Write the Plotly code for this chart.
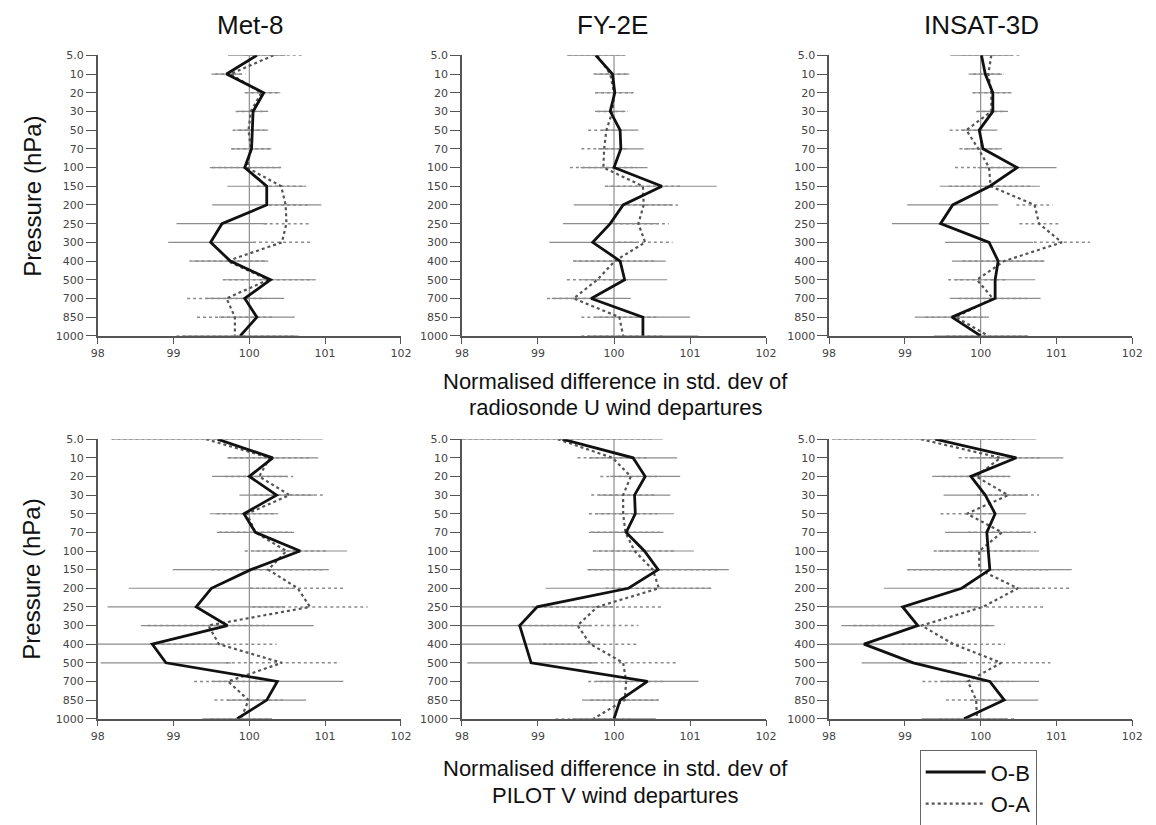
import plotly.graph_objects as go

# ---------------- data ----------------
levels = ["5.0", "10", "20", "30", "50", "70", "100", "150", "200", "250",
          "300", "400", "500", "700", "850", "1000"]
satellites = ["Met-8", "FY-2E", "INSAT-3D"]
x_ticks = [98, 99, 100, 101, 102]

# Row 1: radiosonde U wind
met8_u_ob = [100.10, 99.70, 100.19, 100.05, 100.04, 100.03, 99.94, 100.23, 100.23, 99.64, 99.49, 99.75, 100.28, 99.94, 100.10, 99.88]
met8_u_oa = [100.32, 99.75, 100.16, 100.02, 99.99, 100.02, 99.97, 100.42, 100.48, 100.49, 100.43, 99.71, 100.25, 99.70, 99.81, 99.81]
met8_u_ob_err = [0.38, 0.20, 0.22, 0.20, 0.21, 0.26, 0.46, 0.52, 0.72, 0.60, 0.56, 0.50, 0.60, 0.52, 0.50, 0.77]
met8_u_oa_err = [0.38, 0.20, 0.22, 0.20, 0.21, 0.26, 0.46, 0.32, 0.30, 0.30, 0.38, 0.50, 0.60, 0.52, 0.50, 0.77]

fy2e_u_ob = [99.76, 99.98, 100.01, 99.95, 100.08, 100.09, 100.00, 100.63, 100.12, 99.95, 99.72, 100.08, 100.14, 99.70, 100.38, 100.38]
fy2e_u_oa = [99.78, 99.95, 100.00, 99.98, 99.90, 99.87, 99.86, 100.38, 100.39, 100.32, 100.41, 100.01, 99.78, 99.47, 100.07, 100.12]
fy2e_u_ob_err = [0.38, 0.22, 0.25, 0.20, 0.24, 0.30, 0.44, 0.72, 0.65, 0.62, 0.57, 0.60, 0.56, 0.52, 0.62, 0.73]
fy2e_u_oa_err = [0.38, 0.22, 0.25, 0.20, 0.24, 0.30, 0.44, 0.50, 0.45, 0.40, 0.36, 0.55, 0.40, 0.35, 0.50, 0.55]

insat_u_ob = [100.01, 100.06, 100.16, 100.16, 99.98, 100.03, 100.48, 100.12, 99.63, 99.47, 100.11, 100.23, 100.19, 100.19, 99.62, 100.00]
insat_u_oa = [100.14, 100.10, 100.14, 100.14, 99.81, 99.97, 100.11, 100.13, 100.71, 100.77, 101.07, 100.31, 99.95, 100.16, 99.67, 100.10]
insat_u_ob_err = [0.41, 0.22, 0.25, 0.20, 0.24, 0.25, 0.52, 0.66, 0.60, 0.64, 0.58, 0.61, 0.53, 0.60, 0.49, 0.62]
insat_u_oa_err = [0.38, 0.20, 0.25, 0.20, 0.22, 0.25, 0.45, 0.55, 0.24, 0.26, 0.37, 0.55, 0.38, 0.45, 0.40, 0.55]

# Row 2: PILOT V wind
met8_v_ob = [99.58, 100.31, 100.00, 100.36, 99.93, 100.08, 100.67, 100.02, 99.50, 99.30, 99.71, 98.72, 98.90, 100.37, 100.23, 99.84]
met8_v_oa = [99.43, 100.27, 100.13, 100.53, 99.97, 100.08, 100.49, 100.25, 100.64, 100.80, 99.46, 99.60, 100.43, 99.72, 99.99, 99.89]
met8_v_ob_err = [1.39, 0.60, 0.49, 0.49, 0.45, 0.51, 0.62, 1.03, 1.09, 1.17, 1.14, 0.95, 0.86, 0.87, 0.52, 0.46]
met8_v_oa_err = [1.25, 0.55, 0.45, 0.47, 0.40, 0.48, 0.55, 0.75, 0.63, 0.76, 0.80, 0.76, 0.74, 0.45, 0.45, 0.40]

fy2e_v_ob = [99.32, 100.25, 100.41, 100.27, 100.28, 100.16, 100.40, 100.58, 100.19, 98.99, 98.76, 98.83, 98.91, 100.44, 100.08, 100.00]
fy2e_v_oa = [99.26, 99.98, 100.22, 100.12, 100.12, 100.15, 100.27, 100.51, 100.59, 99.78, 99.52, 99.69, 100.12, 100.16, 100.14, 99.73]
fy2e_v_ob_err = [1.32, 0.58, 0.46, 0.47, 0.51, 0.49, 0.65, 0.93, 1.09, 1.00, 0.95, 0.95, 0.84, 0.67, 0.50, 0.55]
fy2e_v_oa_err = [1.25, 0.46, 0.40, 0.42, 0.45, 0.45, 0.55, 0.85, 0.70, 0.86, 0.80, 0.62, 0.69, 0.50, 0.45, 0.50]

insat_v_ob = [99.40, 100.47, 99.87, 100.06, 100.19, 100.08, 100.10, 100.12, 99.75, 98.97, 99.17, 98.46, 99.11, 100.12, 100.31, 99.78]
insat_v_oa = [99.21, 100.26, 99.94, 100.36, 99.82, 100.28, 99.98, 99.98, 100.49, 100.03, 99.22, 99.64, 100.27, 99.83, 99.94, 99.95]
insat_v_ob_err = [1.33, 0.62, 0.51, 0.55, 0.41, 0.55, 0.67, 1.08, 1.03, 1.00, 1.01, 1.10, 0.68, 0.65, 0.45, 0.56]
insat_v_oa_err = [1.25, 0.55, 0.45, 0.41, 0.35, 0.45, 0.60, 0.95, 0.71, 0.83, 0.90, 0.68, 0.65, 0.60, 0.40, 0.50]

panels = [
    (met8_u_ob, met8_u_oa, met8_u_ob_err, met8_u_oa_err),
    (fy2e_u_ob, fy2e_u_oa, fy2e_u_ob_err, fy2e_u_oa_err),
    (insat_u_ob, insat_u_oa, insat_u_ob_err, insat_u_oa_err),
    (met8_v_ob, met8_v_oa, met8_v_ob_err, met8_v_oa_err),
    (fy2e_v_ob, fy2e_v_oa, fy2e_v_ob_err, fy2e_v_oa_err),
    (insat_v_ob, insat_v_oa, insat_v_ob_err, insat_v_oa_err),
]

# ---------------- layout geometry (screen pixels) ----------------
W, H = 1156, 825
OFF = 8  # default page body margin shifts the figure by this many pixels
col_px = [(92, 400), (462, 771), (835, 1143)]
row_px = [(50, 335), (440, 724)]


def fx(px):
    return (px - OFF) / W


def fy(py):
    return 1 - (py - OFF) / H


FONT = "Liberation Sans, Arial, sans-serif"
TICKFONT = dict(size=11, color="#444", family="DejaVu Sans, sans-serif")
level_idx = list(range(len(levels)))


def bars(vals, errs):
    xs, ys = [], []
    for i, (v, e) in enumerate(zip(vals, errs)):
        xs += [v - e, v + e, None]
        ys += [i, i, None]
    return xs, ys


fig = go.Figure()
layout = dict(
    width=W, height=H,
    margin=dict(l=0, r=0, t=0, b=0),
    paper_bgcolor="white", plot_bgcolor="white",
    font=dict(family=FONT, color="#222"),
    showlegend=True,
)
annotations = []
shapes = []

for p, (ob, oa, ob_err, oa_err) in enumerate(panels):
    r, c = divmod(p, 3)
    n = p + 1
    xa = "x" if n == 1 else f"x{n}"
    ya = "y" if n == 1 else f"y{n}"
    x0, x1 = col_px[c]
    t, b = row_px[r]
    layout[f"xaxis{'' if n == 1 else n}"] = dict(
        domain=[fx(x0), fx(x1)], anchor=ya, range=[98, 102],
        tickvals=x_ticks, ticktext=[str(v) for v in x_ticks],
        ticks="outside", ticklen=6, tickcolor="#555", tickwidth=1.2,
        showline=True, linecolor="#555", linewidth=1.5,
        showgrid=False, zeroline=False, tickfont=TICKFONT,
    )
    layout[f"yaxis{'' if n == 1 else n}"] = dict(
        domain=[fy(b), fy(t)], anchor=xa, range=[15, 0],
        tickvals=level_idx, ticktext=levels,
        ticks="outside", ticklen=10, tickcolor="#555", tickwidth=1.2,
        showline=True, linecolor="#555", linewidth=1.5,
        showgrid=False, zeroline=False, tickfont=TICKFONT,
    )
    # vertical reference line at 100
    shapes.append(dict(type="line", xref=xa, yref=f"{ya} domain", x0=100, x1=100,
                       y0=0, y1=1, line=dict(color="#777", width=1), layer="below"))

    # confidence bars
    bx, by = bars(ob, ob_err)
    fig.add_trace(go.Scatter(x=bx, y=by, xaxis=xa, yaxis=ya, mode="lines",
                             line=dict(color="#8c8c8c", width=1.2),
                             showlegend=False, hoverinfo="skip"))
    bx, by = bars(oa, oa_err)
    fig.add_trace(go.Scatter(x=bx, y=by, xaxis=xa, yaxis=ya, mode="lines",
                             line=dict(color="#8c8c8c", width=1.5, dash="dot"),
                             showlegend=False, hoverinfo="skip"))
    # profiles
    fig.add_trace(go.Scatter(x=oa, y=level_idx, xaxis=xa, yaxis=ya, mode="lines",
                             name="O-A", legendrank=2,
                             line=dict(color="#555", width=2.2, dash="dot"),
                             showlegend=(p == 0)))
    fig.add_trace(go.Scatter(x=ob, y=level_idx, xaxis=xa, yaxis=ya, mode="lines",
                             name="O-B", legendrank=1,
                             line=dict(color="#111", width=2.8),
                             showlegend=(p == 0)))

# column titles
title_x = [247, 615, 990]
for name, xpx in zip(satellites, title_x):
    annotations.append(dict(text=name, x=fx(xpx), y=fy(19), xref="paper", yref="paper",
                            xanchor="center", yanchor="middle", showarrow=False,
                            font=dict(size=26, color="#111", family=FONT)))
# y axis titles
for ypx in [193, 582]:
    annotations.append(dict(text="Pressure (hPa)", x=fx(25), y=fy(ypx),
                            xref="paper", yref="paper", xanchor="center", yanchor="middle",
                            showarrow=False, textangle=-90,
                            font=dict(size=24, color="#111", family=FONT)))
# x axis titles
xt = [("Normalised difference in std. dev of", 381), ("radiosonde U wind departures", 408),
      ("Normalised difference in std. dev of", 775), ("PILOT V wind departures", 802)]
for txt, ypx in xt:
    annotations.append(dict(text=txt, x=fx(618), y=fy(ypx), xref="paper", yref="paper",
                            xanchor="center", yanchor="middle", showarrow=False,
                            font=dict(size=22, color="#111", family=FONT)))

layout["annotations"] = annotations
layout["shapes"] = shapes
layout["legend"] = dict(
    x=fx(927), y=fy(756), xanchor="left", yanchor="top",
    bordercolor="#666", borderwidth=1, bgcolor="white",
    font=dict(size=22, color="#111", family=FONT),
    itemwidth=60, tracegroupgap=0,
)
fig.update_layout(**layout)

fig.write_html("out.html")
